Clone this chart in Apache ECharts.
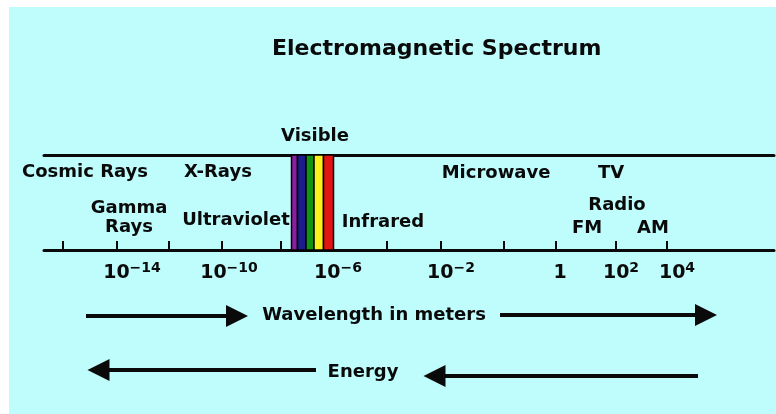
<!DOCTYPE html>
<html>
<head>
<meta charset="utf-8">
<script src="https://cdn.jsdelivr.net/npm/echarts@6/dist/echarts.min.js"></script>
<style>html,body{margin:0;padding:0;background:#fff;}#c{width:776px;height:414px;}</style>
</head>
<body>
<div id="c"></div>
<script>
// Schematic positions along the spectrum (diagram units, 0..730)
const tickPositions = [19, 73, 125, 178, 237, 343, 397, 460, 512, 572, 623];
const tickLabelPositions = [88, 185, 294, 407, 516, 577, 633];
const tickLabelBase = ['10', '10', '10', '10', '1', '10', '10'];
const tickLabelExp = ['\u221214', '\u221210', '\u22126', '\u22122', '', '2', '4'];

const visibleBandEdges = [247.5, 253.5, 262, 270, 279.5, 289.5];
const visibleBandColors = ['#8c1ea3', '#1c1c8c', '#129412', '#faf21a', '#e21414'];

const regionNames = ['Cosmic Rays', 'X-Rays', 'Gamma\nRays', 'Ultraviolet', 'Visible', 'Infrared', 'Microwave', 'TV', 'Radio', 'FM', 'AM'];
const regionX = [41, 174, 85, 192, 271, 339, 452, 567, 573, 543, 609];
const regionY = [78, 78, 32.5, 30, 114, 28, 77, 77, 45, 22, 22];

const arrowNames = ['Wavelength in meters', 'Energy'];
const arrowTextX = [330, 319];
const arrowTextY = [75, 18];
const arrowFrom = [[42, 74], [456, 75], [272, 20], [654, 14]];
const arrowTo = [[193, 74], [662, 75], [54.5, 20], [390.5, 14]];

const FONT = 'DejaVu Sans';
const INK = '#0a0a0a';
const chart = echarts.init(document.getElementById('c'), null, {renderer: 'canvas'});

const bands = [];
for (let i = 0; i < visibleBandColors.length; i++) {
  bands.push([
    {xAxis: visibleBandEdges[i], itemStyle: {color: visibleBandColors[i], borderColor: '#000', borderWidth: 1.5, opacity: 1}},
    {xAxis: visibleBandEdges[i + 1]}
  ]);
}

const textLabel = {
  show: true, position: 'inside', formatter: p => p.name, opacity: 1,
  fontFamily: FONT, fontWeight: 'bold', fontSize: 18, lineHeight: 19, color: INK,
  textBorderWidth: 0, align: 'center', verticalAlign: 'middle'
};

chart.setOption({
  backgroundColor: '#fff',
  animation: false,
  graphic: [{
    type: 'rect', left: 9, top: 7, z: -10,
    shape: {width: 767, height: 407},
    style: {fill: '#bffcfc'}
  }],
  title: {
    text: 'Electromagnetic Spectrum',
    left: 267, top: 33,
    textStyle: {fontFamily: FONT, fontWeight: 'bold', fontSize: 22, color: INK}
  },
  grid: [
    {left: 44, width: 730, top: 155, height: 95},
    {left: 44, width: 730, top: 290, height: 100}
  ],
  xAxis: [
    {
      type: 'value', gridIndex: 0, min: 0, max: 730, position: 'bottom',
      axisLine: {onZero: false, lineStyle: {color: INK, width: 3}},
      axisTick: {show: true, inside: true, length: 9, customValues: tickPositions, lineStyle: {color: INK, width: 2}},
      axisLabel: {
        show: true, margin: 11, customValues: tickLabelPositions, hideOverlap: false,
        formatter: function (v) {
          const i = tickLabelPositions.indexOf(v);
          if (i < 0) return '';
          return tickLabelExp[i] ? '{b|' + tickLabelBase[i] + '}{s|' + tickLabelExp[i] + '}' : '{b|' + tickLabelBase[i] + '}';
        },
        rich: {
          b: {fontFamily: FONT, fontWeight: 'bold', fontSize: 19, color: INK, lineHeight: 24},
          s: {fontFamily: FONT, fontWeight: 'bold', fontSize: 14, color: INK, lineHeight: 14, verticalAlign: 'top'}
        }
      },
      splitLine: {show: false}
    },
    {
      type: 'value', gridIndex: 0, min: 0, max: 730, position: 'top',
      axisLine: {onZero: false, lineStyle: {color: INK, width: 3}},
      axisTick: {show: false}, axisLabel: {show: false}, splitLine: {show: false}
    },
    {type: 'value', gridIndex: 1, min: 0, max: 730, show: false}
  ],
  yAxis: [
    {type: 'value', gridIndex: 0, min: 0, max: 95, show: false},
    {type: 'value', gridIndex: 1, min: 0, max: 100, show: false}
  ],
  series: [
    {
      type: 'scatter', xAxisIndex: 0, yAxisIndex: 0, symbolSize: 0, clip: false,
      itemStyle: {opacity: 1},
      data: regionNames.map((n, i) => ({name: n, value: [regionX[i], regionY[i]]})),
      label: textLabel,
      markArea: {silent: true, data: bands}
    },
    {
      type: 'scatter', xAxisIndex: 2, yAxisIndex: 1, symbolSize: 0, clip: false,
      itemStyle: {opacity: 1},
      data: arrowNames.map((n, i) => ({name: n, value: [arrowTextX[i], arrowTextY[i]]})),
      label: textLabel
    },
    {
      type: 'lines', coordinateSystem: 'cartesian2d', xAxisIndex: 2, yAxisIndex: 1, clip: false,
      symbol: ['none', 'triangle'], symbolSize: [0, 22],
      lineStyle: {color: INK, width: 4, opacity: 1},
      itemStyle: {color: INK},
      data: arrowFrom.map((f, i) => ({coords: [f, arrowTo[i]]}))
    }
  ]
});
</script>
</body>
</html>
